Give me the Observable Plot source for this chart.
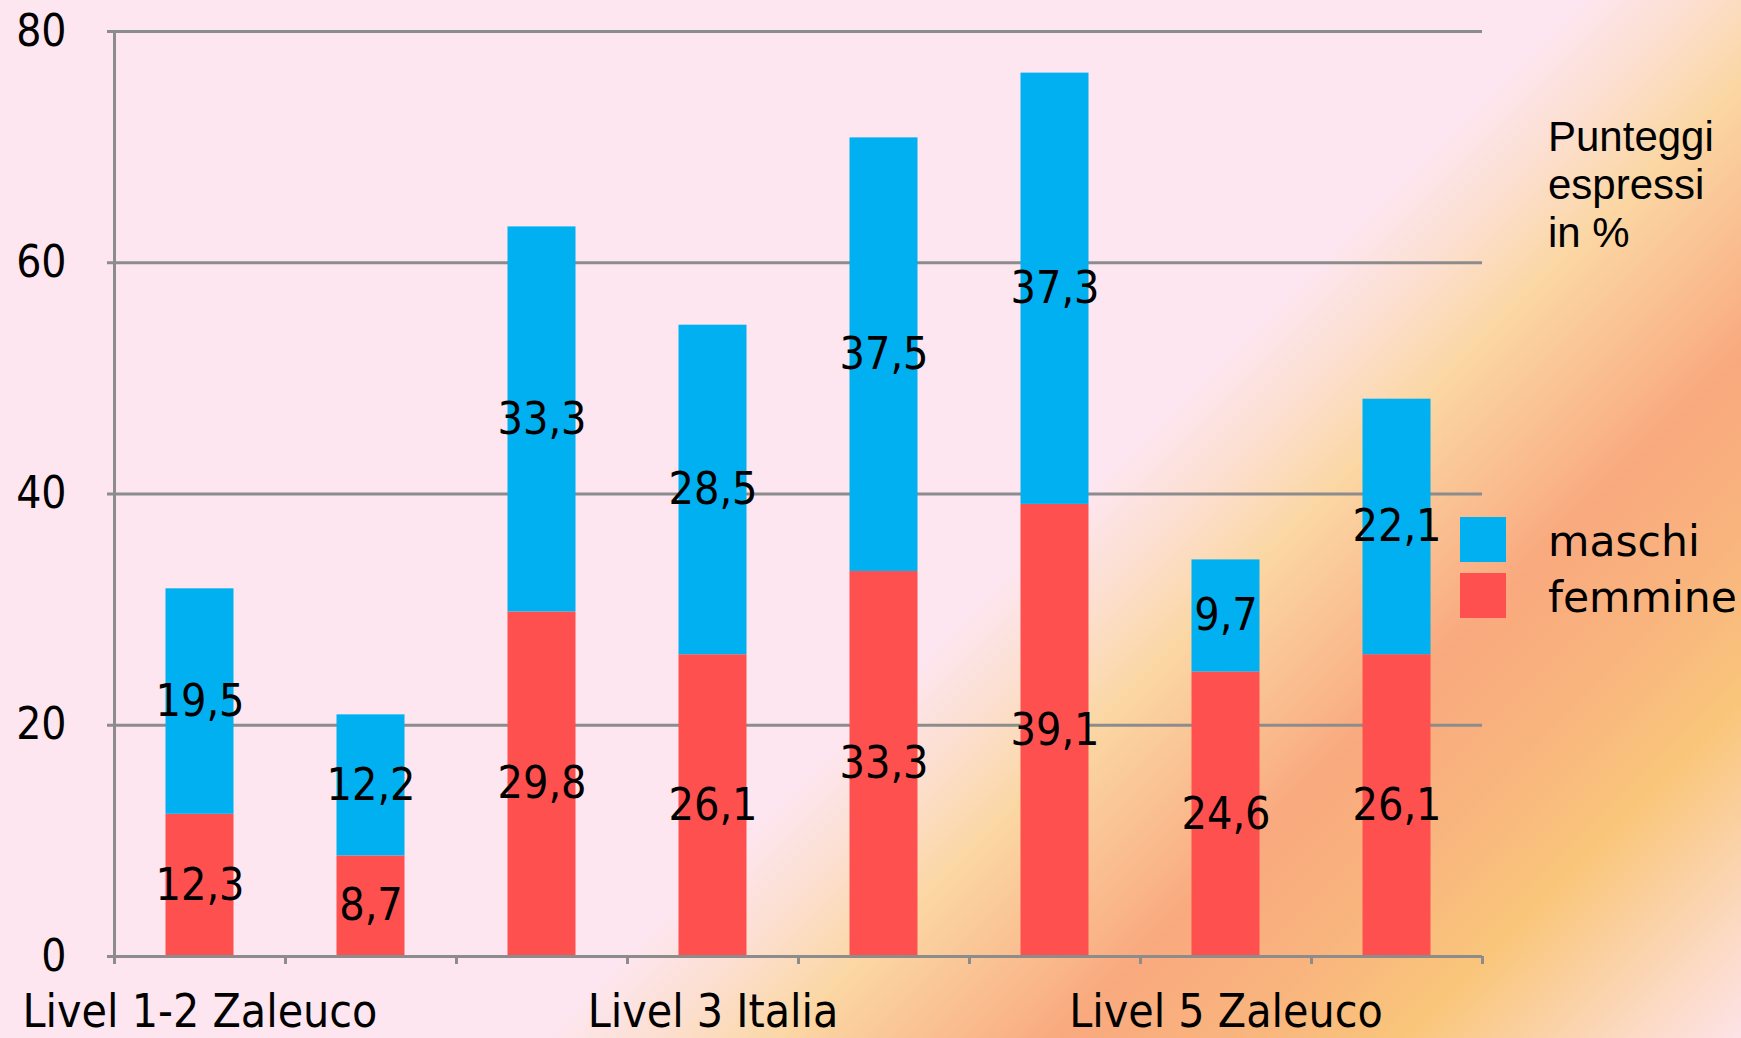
<!DOCTYPE html>
<html>
<head>
<meta charset="utf-8">
<script src="https://cdn.jsdelivr.net/npm/d3@7"></script>
<script src="https://cdn.jsdelivr.net/npm/@observablehq/plot@0.6"></script>
<style>
  html, body { margin: 0; padding: 0; }
  #wrap {
    position: relative; width: 1741px; height: 1038px; overflow: hidden;
    background: linear-gradient(135deg,
      #fde6ef 0%, #fde6ef 57%, #fcdfd0 61%, #fbd7a4 65.5%, #fac394 70%,
      #f9a97e 75.5%, #f9b57e 82%, #f9c67b 88%, #fbd5b2 94%, #fde3e8 100%);
  }
  #chart { position: absolute; left: 0; top: 0; }
  #chart svg text { font-stretch: condensed; }
  .note {
    position: absolute; left: 1548px; top: 113px;
    font-family: "Liberation Sans", Arial, sans-serif; font-size: 42px; line-height: 48px; color: #000;
  }
  .legend { position: absolute; left: 1460px; top: 514px; }
  .legend .row { position: relative; height: 56px; }
  .legend .sw { position: absolute; left: 0; width: 46px; height: 45px; }
  .legend .lab {
    position: absolute; left: 88px; top: 0; white-space: nowrap;
    font-family: "DejaVu Sans", Verdana, sans-serif; font-size: 42.5px; line-height: 55px; color: #000;
  }
</style>
</head>
<body>
<div id="wrap">
  <div id="chart"></div>
  <div class="note">Punteggi<br>espressi<br>in %</div>
  <div class="legend" id="legend"></div>
</div>
<script>
const tickLabels = ["Livel 1-2 Zaleuco", "", "", "Livel 3 Italia", "", "", "Livel 5 Zaleuco", ""];
const seriesNames = ["femmine", "maschi"];
const femmine = [12.3, 8.7, 29.8, 26.1, 33.3, 39.1, 24.6, 26.1];
const maschi = [19.5, 12.2, 33.3, 28.5, 37.5, 37.3, 9.7, 22.1];
const yTicks = [0, 20, 40, 60, 80];
const legendOrder = ["maschi", "femmine"];

const RED = "#ff5050", BLUE = "#00b0f0", GRAY = "#8c8c8c";
const colors = {femmine: RED, maschi: BLUE};
const FONT = "'DejaVu Sans Condensed', 'DejaVu Sans', sans-serif";

const seriesValues = {femmine, maschi};
const rows = [];
for (const s of seriesNames) seriesValues[s].forEach((v, i) => rows.push({i, series: s, value: v}));
const labelRows = tickLabels.map((t, i) => ({i, t}));
const fmt = v => v.toFixed(1).replace(".", ",");

const chart = Plot.plot({
  width: 1741, height: 1038,
  marginLeft: 114, marginRight: 259, marginTop: 31, marginBottom: 82,
  x: {domain: [0, tickLabels.length], axis: null, label: null},
  y: {domain: [0, 80], axis: null, label: null},
  color: {domain: seriesNames, range: seriesNames.map(s => colors[s])},
  style: {background: "transparent", color: "#000", overflow: "visible", fontFamily: FONT},
  marks: [
    Plot.ruleY(yTicks.filter(d => d > 0), {stroke: GRAY, strokeWidth: 3}),
    Plot.rectY(rows, {x: "i", interval: 1, y: "value", fill: "series", insetLeft: 51.5, insetRight: 51.5}),
    Plot.text(rows, Plot.stackY({x: d => d.i + 0.5, y: "value", z: "series", text: d => fmt(d.value),
      fontSize: 44.5, fontFamily: FONT, fill: "#000"})),
    Plot.ruleX([0], {y1: 0, y2: 80, stroke: GRAY, strokeWidth: 3}),
    Plot.ruleY([0], {stroke: GRAY, strokeWidth: 3}),
    Plot.axisY(yTicks, {tickSize: 7, tickPadding: 41, stroke: GRAY, strokeWidth: 3,
      fontSize: 44, fontFamily: FONT, fill: "#000", label: null}),
    Plot.axisX(d3.range(tickLabels.length + 1), {tickSize: 8, tickFormat: () => "", stroke: GRAY, strokeWidth: 3, label: null}),
    Plot.text(labelRows, {x: d => d.i + 0.5, frameAnchor: "bottom", lineAnchor: "top", dy: 38,
      text: "t", fontSize: 46, fontFamily: FONT, fill: "#000"})
  ]
});
document.getElementById("chart").appendChild(chart);

const legend = document.getElementById("legend");
for (const s of legendOrder) {
  const row = document.createElement("div");
  row.className = "row";
  row.innerHTML = `<div class="sw" style="background:${colors[s]};top:3px"></div><div class="lab">${s}</div>`;
  legend.appendChild(row);
}
</script>
</body>
</html>
